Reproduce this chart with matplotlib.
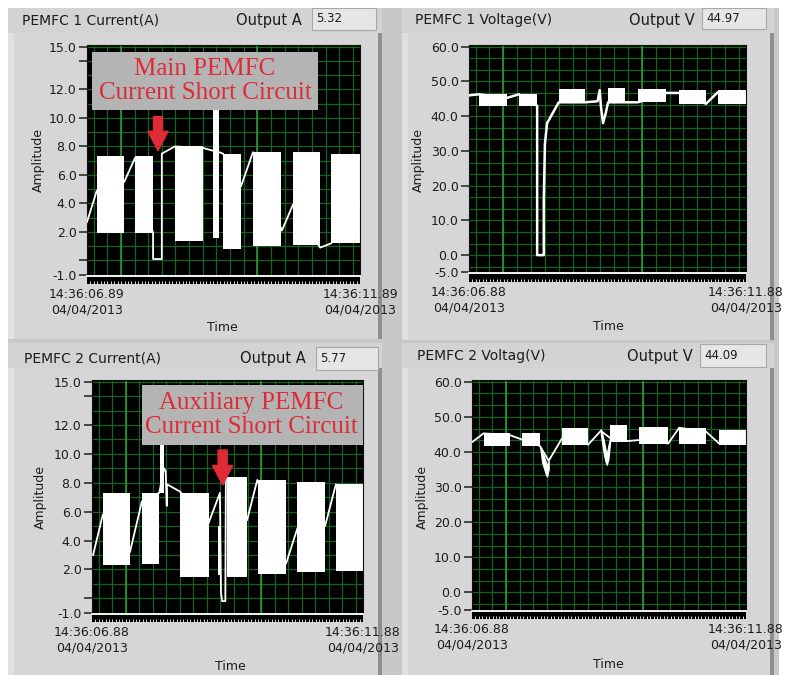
import numpy as np
import matplotlib
matplotlib.use("Agg")
import matplotlib.pyplot as plt
from matplotlib.patches import Rectangle
from matplotlib.ticker import MultipleLocator

# ---------------- data ----------------
# time in seconds from the first sample of each graph (5 s window)
# white blocks = dense switching ripple: start, end, low, high

# PEMFC 1 current (A)
i1_start = [0.18, 0.88, 1.61, 2.31, 2.49, 3.04, 3.77, 4.47]
i1_end = [0.68, 1.21, 2.12, 2.42, 2.82, 3.55, 4.27, 5.00]
i1_low = [1.9, 1.9, 1.4, 1.6, 0.8, 1.0, 1.1, 1.2]
i1_high = [7.3, 7.3, 8.0, 11.0, 7.5, 7.6, 7.6, 7.5]
i1_t = [0, 0.18, 0.68, 0.88, 1.21, 1.21, 1.37, 1.37, 1.61, 2.12, 2.31, 2.42,
        2.49, 2.82, 3.04, 3.57, 3.77, 4.27, 4.47, 5.0]
i1_v = [2.7, 4.9, 5.5, 7.2, 1.9, 0.1, 0.1, 7.5, 8.0, 7.9, 7.7, 7.6,
        7.5, 5.2, 7.6, 2.1, 3.9, 0.9, 1.2, 4.0]

# PEMFC 1 voltage (V)
v1_start = [0.18, 0.90, 1.62, 2.51, 3.05, 3.79, 4.49]
v1_end = [0.69, 1.23, 2.09, 2.82, 3.56, 4.28, 5.00]
v1_low = [43.0, 43.0, 43.9, 44.0, 44.0, 43.4, 43.5]
v1_high = [46.3, 46.3, 47.7, 48.0, 47.8, 47.5, 47.6]
v1_t = [0, 0.18, 0.69, 0.90, 1.23, 1.23, 1.35, 1.35, 1.37, 1.41, 1.62, 2.09,
        2.32, 2.36, 2.38, 2.42, 2.47, 2.51, 2.82, 3.05, 3.56, 3.79, 4.28, 4.49, 5.0]
v1_v = [46.0, 46.3, 45.3, 46.3, 43.0, 0.0, 0.0, 16.0, 32.0, 38.0, 44.0, 44.0,
        44.3, 47.5, 43.0, 38.0, 41.0, 44.0, 44.0, 44.0, 46.7, 46.7, 43.6, 46.9, 45.0]

# PEMFC 2 current (A)
i2_start = [0.20, 0.92, 1.25, 1.62, 2.33, 2.49, 3.07, 3.79, 4.50]
i2_end = [0.70, 1.24, 1.33, 2.15, 2.37, 2.86, 3.58, 4.30, 5.00]
i2_low = [2.3, 2.35, 7.3, 1.5, 1.6, 1.5, 1.7, 1.8, 1.9]
i2_high = [7.3, 7.3, 10.8, 7.26, 5.0, 8.4, 8.2, 8.05, 7.9]
i2_t = [0.02, 0.20, 0.70, 0.92, 1.24, 1.33, 1.36, 1.38, 1.38, 1.62, 2.15, 2.36,
        2.38, 2.40, 2.46, 2.47, 2.49, 2.86, 3.05, 3.58, 3.79, 4.30, 4.50, 5.0]
i2_v = [3.0, 5.8, 3.2, 6.7, 7.3, 9.0, 8.8, 6.4, 7.9, 7.4, 5.2, 7.3,
        0.4, -0.2, -0.2, 8.3, 8.3, 5.4, 8.2, 2.4, 4.85, 5.0, 7.9, 5.0]

# PEMFC 2 voltage (V)
v2_start = [0.21, 0.92, 1.64, 2.52, 3.05, 3.78, 4.51]
v2_end = [0.69, 1.24, 2.12, 2.83, 3.58, 4.27, 5.00]
v2_low = [41.7, 41.7, 42.1, 42.7, 42.2, 42.2, 41.9]
v2_high = [45.3, 45.3, 46.9, 47.7, 47.0, 46.9, 46.4]
v2_t = [0.01, 0.21, 0.69, 0.92, 1.24, 1.40, 1.64, 2.12, 2.35, 2.52, 2.83, 3.05,
        3.58, 3.78, 4.27, 4.51, 5.0]
v2_v = [42.9, 45.3, 44.8, 43.5, 41.7, 37.5, 43.8, 42.1, 46.0, 44.0, 43.1, 43.4,
        42.4, 46.9, 45.8, 42.4, 44.0]
# the two voltage sags, drawn as filled bands
v2_dip1_t = [1.24, 1.28, 1.32, 1.35, 1.37, 1.40]
v2_dip1_top = [41.7, 40.0, 38.5, 37.0, 36.0, 37.5]
v2_dip1_bot = [41.7, 37.0, 35.0, 33.5, 33.0, 35.0]
v2_dip2_t = [2.35, 2.38, 2.41, 2.44, 2.46, 2.49, 2.52]
v2_dip2_top = [46.5, 45.0, 43.0, 40.5, 39.5, 42.0, 44.0]
v2_dip2_bot = [45.0, 42.0, 39.0, 37.0, 36.3, 38.0, 42.7]

# axis ticks / labels
cur_ticks = [15, 14, 12, 10, 8, 6, 4, 2, 0, -1]
cur_labels = ["15.0", "", "12.0", "10.0", "8.0", "6.0", "4.0", "2.0", "", "-1.0"]
volt_ticks = [60, 50, 40, 30, 20, 10, 0, -5]
volt_labels = ["60.0", "50.0", "40.0", "30.0", "20.0", "10.0", "0.0", "-5.0"]
time_labels_89 = ["14:36:06.89\n04/04/2013", "14:36:11.89\n04/04/2013"]
time_labels_88 = ["14:36:06.88\n04/04/2013", "14:36:11.88\n04/04/2013"]

# ---------------- figure ----------------
W, H = 785, 675
fig = plt.figure(figsize=(W / 100, H / 100), dpi=100, facecolor="white")

TXT = "#1c1c1c"
GRID_MINOR = "#17621d"
GRID_MAJOR = "#2ea236"


def px_box(x0, y0, x1, y1, color, z=-5, ec="none", lw=0):
    fig.add_artist(Rectangle((x0 / W, 1 - y1 / H), (x1 - x0) / W, (y1 - y0) / H,
                             transform=fig.transFigure, facecolor=color,
                             edgecolor=ec, lw=lw, zorder=z))


def px_text(x, y, s, **kw):
    fig.text(x / W, 1 - y / H, s, **kw)


def px_axes(x0, y0, x1, y1):
    return fig.add_axes([x0 / W, 1 - y1 / H, (x1 - x0) / W, (y1 - y0) / H])


# window background
px_box(8, 8, 779, 675, "#c8c8c8", z=-10)


def panel_frame(x0, y0, x1, y1, title_h=25):
    px_box(x0, y0, x1, y0 + title_h, "#d3d3d3")
    px_box(x0, y0 + title_h, x1, y1, "#d6d6d6")
    px_box(x0, y0 + title_h, x0 + 6, y1, "#e0e0e0")
    px_box(x1 - 4, y0 + title_h, x1, y1, "#8e8e8e")


panel_frame(8, 8, 382, 339)
panel_frame(402, 8, 774, 340)
panel_frame(8, 343, 382, 675)
panel_frame(402, 343, 774, 675)


def draw_chart(plot_px, ruler_px, ylim, ticks, labels, hgrid, blocks, trace,
               tlabels, fills=(), trace_lw=1.3):
    ax = px_axes(*plot_px)
    ax.set_facecolor("black")
    ax.set_xlim(0, 5)
    ax.set_ylim(*ylim)

    vminor = np.arange(0.12, 5, 0.25)
    ax.vlines(vminor, *ylim, color=GRID_MINOR, lw=0.9, zorder=0.5)
    ax.hlines(hgrid, 0, 5, color=GRID_MINOR, lw=0.9, zorder=0.5)
    ax.vlines([0.62, 3.12], *ylim, color=GRID_MAJOR, lw=1.1, zorder=0.6)

    for s, e, lo, hi in zip(*blocks):
        ax.fill_between([s, e], lo, hi, color="white", lw=0, zorder=2)
    for ft, top, bot in fills:
        ax.fill_between(ft, bot, top, color="white", lw=0.8, edgecolor="white", zorder=2)
    ax.plot(trace[0], trace[1], color="white", lw=trace_lw, zorder=3)

    ax.set_xticks([])
    ax.set_yticks(ticks)
    ax.set_yticklabels(labels, fontsize=9, color=TXT)
    ax.tick_params(axis="y", direction="out", length=6, width=1.3,
                   color="#3a3a3a", pad=1.5)
    for sp in ax.spines.values():
        sp.set_color("#111111")
    ax.spines["bottom"].set_color("#f0f0f0")
    ax.spines["bottom"].set_linewidth(1.4)

    # LabVIEW style time ruler under the plot
    rx = px_axes(*ruler_px)
    rx.set_facecolor("black")
    rx.set_xlim(0, 5)
    rx.set_yticks([])
    rx.set_xticks([0, 5])
    rx.set_xticklabels(tlabels, fontsize=9, color=TXT, linespacing=1.25)
    rx.xaxis.set_minor_locator(MultipleLocator(0.0625))
    rx.tick_params(which="minor", direction="in", length=2.2, width=0.7, color="#d8d8d8")
    rx.tick_params(which="major", length=0, pad=3)
    for sp in rx.spines.values():
        sp.set_visible(False)
    return ax


cur_grid = np.arange(-1, 15.01, 1.0)
volt_grid = np.arange(60, -5.1, -10 / 3)

ax1 = draw_chart((87, 45, 360, 276), (87, 277, 360, 284), (-1.09, 15.12),
                 cur_ticks, cur_labels, cur_grid,
                 (i1_start, i1_end, i1_low, i1_high), (i1_t, i1_v), time_labels_89)
ax2 = draw_chart((469, 45, 746, 273), (469, 274, 746, 282), (-5.15, 60.5),
                 volt_ticks, volt_labels, volt_grid,
                 (v1_start, v1_end, v1_low, v1_high), (v1_t, v1_v), time_labels_88,
                 trace_lw=1.8)
ax3 = draw_chart((92, 380, 363, 614), (92, 615, 363, 622), (-1.09, 15.12),
                 cur_ticks, cur_labels, cur_grid,
                 (i2_start, i2_end, i2_low, i2_high), (i2_t, i2_v), time_labels_88)
ax4 = draw_chart((472, 380, 746, 611), (472, 612, 746, 619), (-5.3, 60.5),
                 volt_ticks, volt_labels, volt_grid,
                 (v2_start, v2_end, v2_low, v2_high), (v2_t, v2_v), time_labels_88,
                 fills=[(v2_dip1_t, v2_dip1_top, v2_dip1_bot),
                        (v2_dip2_t, v2_dip2_top, v2_dip2_bot)])

# axis titles
for x, y in [(38, 160), (418, 160), (40, 497), (422, 497)]:
    px_text(x, y, "Amplitude", rotation=90, ha="center", va="center", fontsize=9, color=TXT)
for x, y in [(222, 328), (608, 327), (230, 666), (608, 664)]:
    px_text(x, y, "Time", ha="center", va="center", fontsize=9, color=TXT)

# title strips with output indicators
strips = [
    (22, 20, "PEMFC 1 Current(A)", 236, "Output A", (312, 8, 376, 30), "5.32"),
    (415, 20, "PEMFC 1 Voltage(V)", 629, "Output V", (702, 8, 766, 29), "44.97"),
    (24, 358, "PEMFC 2 Current(A)", 240, "Output A", (316, 347, 378, 370), "5.77"),
    (417, 356, "PEMFC 2 Voltag(V)", 627, "Output V", (700, 344, 766, 367), "44.09"),
]
for tx, ty, title, ox, otext, vb, val in strips:
    px_text(tx, ty, title, ha="left", va="center", fontsize=10, color=TXT)
    px_text(ox, ty, otext, ha="left", va="center", fontsize=10.5, color=TXT)
    px_box(*vb, "#e6e6e6", z=-4, ec="#a8a8a8", lw=0.8)
    px_text(vb[0] + 4, (vb[1] + vb[3]) / 2, val, ha="left", va="center", fontsize=8.5, color=TXT)

# short-circuit annotations
RED = "#de2b36"
px_box(92, 52, 318, 110, "#b4b4b4", z=5)
px_text(205, 81, "Main PEMFC\nCurrent Short Circuit", ha="center", va="center",
        fontsize=18, color=RED, family="Liberation Serif", linespacing=1.08, zorder=6)
px_box(142, 385, 363, 445, "#b4b4b4", z=5)
px_text(251, 415, "Auxiliary PEMFC\nCurrent Short Circuit", ha="center", va="center",
        fontsize=18, color=RED, family="Liberation Serif", linespacing=1.08, zorder=6)

arrow = dict(arrowstyle="simple,head_length=1.4,head_width=1.45,tail_width=0.65",
             color=RED, shrinkA=0, shrinkB=0, mutation_scale=10)
ax1.annotate("", xy=(1.30, 7.7), xytext=(1.30, 10.1), arrowprops=arrow, zorder=7)
ax3.annotate("", xy=(2.41, 7.85), xytext=(2.41, 10.27), arrowprops=arrow, zorder=7)

fig.savefig("out.png", dpi=100, facecolor=fig.get_facecolor())
